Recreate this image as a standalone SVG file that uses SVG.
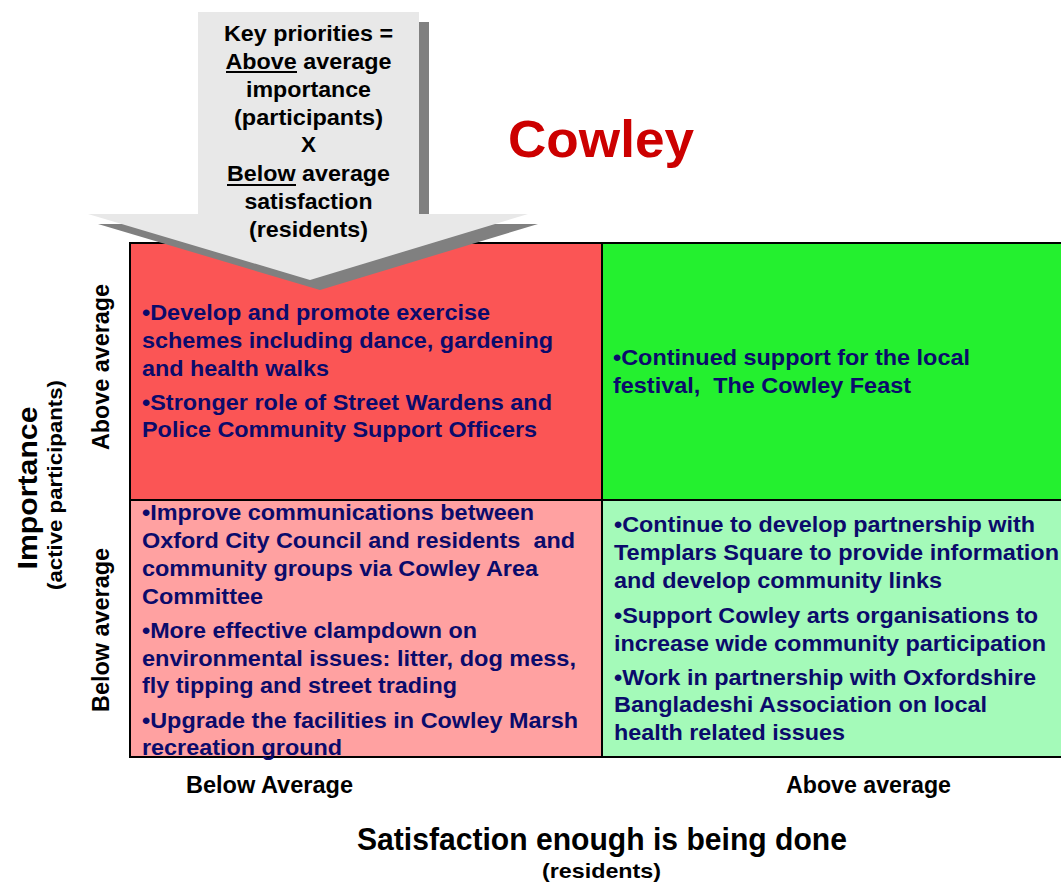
<svg xmlns="http://www.w3.org/2000/svg" width="1061" height="883" viewBox="0 0 1061 883">
<style>
text{font-family:"Liberation Sans",Arial,sans-serif;font-weight:bold}
.q{font-size:22.5px;fill:#0b0b6b;white-space:pre}
.k{font-size:22px;fill:#000;text-anchor:middle}
.ax{fill:#000}
.cell{stroke:#000;stroke-width:2}
</style>
<rect width="1061" height="883" fill="#fff"/>
<g id="grid">
<rect id="q-tl" class="cell" x="130" y="243" width="472" height="257" fill="#FB5555"/>
<rect id="q-tr" class="cell" x="602" y="243" width="462" height="257" fill="#24F02F"/>
<rect id="q-bl" class="cell" x="130" y="500" width="472" height="257" fill="#FFA1A1"/>
<rect id="q-br" class="cell" x="602" y="500" width="462" height="257" fill="#A4FAB9"/>
</g>
<g id="key-arrow">
<polygon points="208,22 429,22 429,224 538,224 320,290 98,224 208,224" fill="#808080"/>
<polygon points="198,12 419,12 419,214 528,214 310,280 88,214 198,214" fill="#E8E8E8"/>
<text class="k" x="308.5" y="41" textLength="169" lengthAdjust="spacingAndGlyphs">Key priorities =</text>
<text class="k" x="308.5" y="69" textLength="166" lengthAdjust="spacingAndGlyphs">Above average</text>
<text class="k" x="308.5" y="97" textLength="125" lengthAdjust="spacingAndGlyphs">importance</text>
<text class="k" x="308.5" y="125" textLength="149" lengthAdjust="spacingAndGlyphs">(participants)</text>
<text class="k" x="308.5" y="152" textLength="15" lengthAdjust="spacingAndGlyphs">X</text>
<text class="k" x="308.5" y="181" textLength="163" lengthAdjust="spacingAndGlyphs">Below average</text>
<text class="k" x="308.5" y="209" textLength="128" lengthAdjust="spacingAndGlyphs">satisfaction</text>
<text class="k" x="308.5" y="237" textLength="119" lengthAdjust="spacingAndGlyphs">(residents)</text>
<rect x="226" y="71" width="71" height="2" fill="#000"/>
<rect x="227" y="184" width="69" height="2" fill="#000"/>
</g>
<g id="title">
<text x="508" y="157" font-size="52" fill="#CC0000" textLength="186" lengthAdjust="spacingAndGlyphs">Cowley</text>
</g>
<g id="tl-text">
<text class="q" x="142" y="320" textLength="348" lengthAdjust="spacingAndGlyphs">•Develop and promote exercise</text>
<text class="q" x="142" y="348" textLength="411" lengthAdjust="spacingAndGlyphs">schemes including dance, gardening</text>
<text class="q" x="142" y="376" textLength="187" lengthAdjust="spacingAndGlyphs">and health walks</text>
<text class="q" x="142" y="410" textLength="410" lengthAdjust="spacingAndGlyphs">•Stronger role of Street Wardens and</text>
<text class="q" x="142" y="437" textLength="395" lengthAdjust="spacingAndGlyphs">Police Community Support Officers</text>
</g>
<g id="tr-text">
<text class="q" x="613" y="365" textLength="357" lengthAdjust="spacingAndGlyphs">•Continued support for the local</text>
<text class="q" x="613" y="393" textLength="298" lengthAdjust="spacingAndGlyphs">festival,  The Cowley Feast</text>
</g>
<g id="bl-text">
<text class="q" x="142" y="520" textLength="392" lengthAdjust="spacingAndGlyphs">•Improve communications between</text>
<text class="q" x="142" y="548" textLength="433" lengthAdjust="spacingAndGlyphs">Oxford City Council and residents  and</text>
<text class="q" x="142" y="576" textLength="396" lengthAdjust="spacingAndGlyphs">community groups via Cowley Area</text>
<text class="q" x="142" y="604" textLength="121" lengthAdjust="spacingAndGlyphs">Committee</text>
<text class="q" x="142" y="638" textLength="335" lengthAdjust="spacingAndGlyphs">•More effective clampdown on</text>
<text class="q" x="142" y="666" textLength="434" lengthAdjust="spacingAndGlyphs">environmental issues: litter, dog mess,</text>
<text class="q" x="142" y="693" textLength="315" lengthAdjust="spacingAndGlyphs">fly tipping and street trading</text>
<text class="q" x="142" y="728" textLength="436" lengthAdjust="spacingAndGlyphs">•Upgrade the facilities in Cowley Marsh</text>
<text class="q" x="142" y="755" textLength="200" lengthAdjust="spacingAndGlyphs">recreation ground</text>
</g>
<g id="br-text">
<text class="q" x="614" y="532" textLength="421" lengthAdjust="spacingAndGlyphs">•Continue to develop partnership with</text>
<text class="q" x="614" y="560" textLength="445" lengthAdjust="spacingAndGlyphs">Templars Square to provide information</text>
<text class="q" x="614" y="588" textLength="328" lengthAdjust="spacingAndGlyphs">and develop community links</text>
<text class="q" x="614" y="623" textLength="424" lengthAdjust="spacingAndGlyphs">•Support Cowley arts organisations to</text>
<text class="q" x="614" y="651" textLength="432" lengthAdjust="spacingAndGlyphs">increase wide community participation</text>
<text class="q" x="614" y="685" textLength="422" lengthAdjust="spacingAndGlyphs">•Work in partnership with Oxfordshire</text>
<text class="q" x="614" y="712" textLength="373" lengthAdjust="spacingAndGlyphs">Bangladeshi Association on local</text>
<text class="q" x="614" y="740" textLength="231" lengthAdjust="spacingAndGlyphs">health related issues</text>
</g>
<g id="y-axis">
<text class="ax" transform="translate(37,488) rotate(-90)" text-anchor="middle" font-size="27" textLength="163" lengthAdjust="spacingAndGlyphs">Importance</text>
<text class="ax" transform="translate(62,485) rotate(-90)" text-anchor="middle" font-size="21" textLength="210" lengthAdjust="spacingAndGlyphs">(active participants)</text>
<text class="ax" transform="translate(109,367) rotate(-90)" text-anchor="middle" font-size="23" textLength="166" lengthAdjust="spacingAndGlyphs">Above average</text>
<text class="ax" transform="translate(109,630) rotate(-90)" text-anchor="middle" font-size="23" textLength="164" lengthAdjust="spacingAndGlyphs">Below average</text>
</g>
<g id="x-axis">
<text class="ax" x="186" y="793" font-size="23" textLength="167" lengthAdjust="spacingAndGlyphs">Below Average</text>
<text class="ax" x="786" y="793" font-size="23" textLength="165" lengthAdjust="spacingAndGlyphs">Above average</text>
<text class="ax" x="357" y="850" font-size="31" textLength="490" lengthAdjust="spacingAndGlyphs">Satisfaction enough is being done</text>
<text class="ax" x="542" y="878" font-size="21" textLength="119" lengthAdjust="spacingAndGlyphs">(residents)</text>
</g>
</svg>
